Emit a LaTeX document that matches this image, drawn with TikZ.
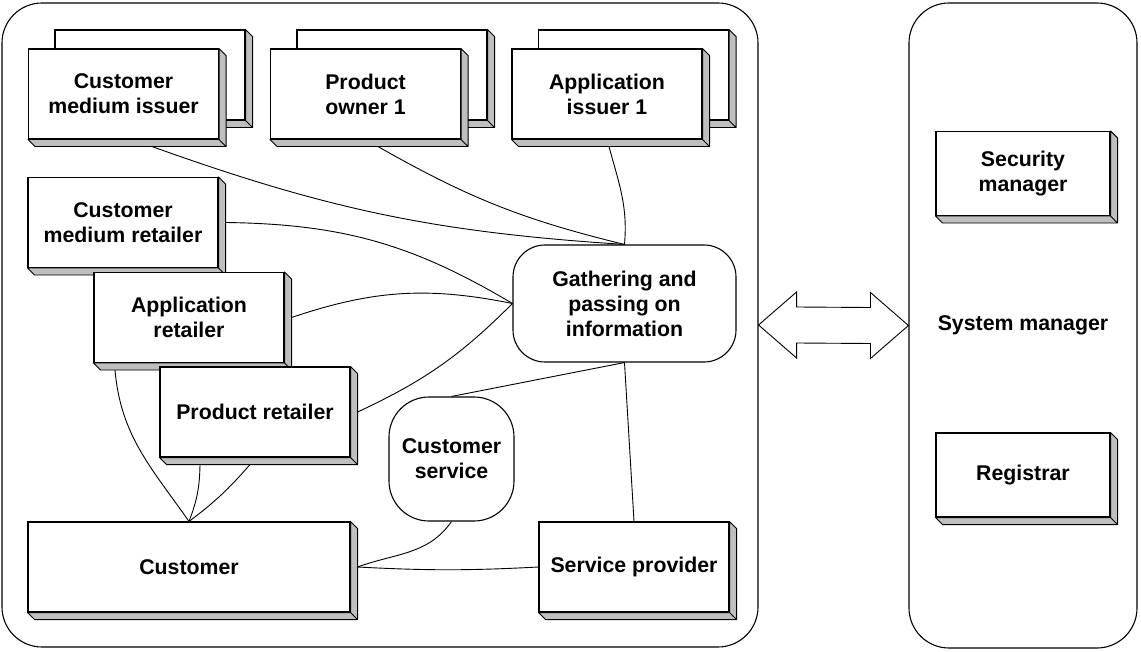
\documentclass[tikz,border=0pt]{standalone}
\usepackage{fontspec}
\setmainfont{Liberation Sans}
\usepackage{tikz}
\usetikzlibrary{calc}

\begin{document}
\begin{tikzpicture}
  [
    x = 1pt, y = -1pt, line width = 1.1pt,
    every node/.style = {font = \fontsize{21.3}{25}\selectfont\bfseries, align = center, inner sep = 0pt},
    panel/.style = {draw, rounded corners = 40pt},
    box/.style = {draw, fill = white, minimum width = 190pt, minimum height = 90pt,
      append after command = {\pgfextra{
        \filldraw [fill = black!25, line width = 0.9pt, line join = round]
          (\tikzlastnode.north east) -- ++(7pt,-7pt)
          -- ([shift={(7pt,-7pt)}]\tikzlastnode.south east)
          -- ([shift={(7pt,-7pt)}]\tikzlastnode.south west)
          -- (\tikzlastnode.south west) -- (\tikzlastnode.south east) -- cycle
          (\tikzlastnode.south east) -- ++(7pt,-7pt);
      }}},
    round/.style = {draw, fill = white, rounded corners = 32pt},
    link/.style = {line width = 0.9pt}
  ]
  \useasboundingbox [fill = white] (0,0) rectangle (1141,652);
  \node [panel, minimum width = 756pt, minimum height = 644pt] (dom) at (380,325) {};
  \node [panel, minimum width = 228pt, minimum height = 645pt] (sysman) at (1023,325.5) {System manager};
  % issuers and owners, each with a second box behind
  \node [box] (cmiB) at (150,75) {};
  \node [box] (cmi) at (123.5,94) {Customer\\medium issuer};
  \node [box] (poB) at (392,75) {};
  \node [box] (po) at (365.5,94) {Product\\owner 1};
  \node [box] (aiB) at (633.5,75) {};
  \node [box] (ai) at (607,94) {Application\\issuer 1};
  % retailers
  \node [box] (cmr) at (123,222.5) {Customer\\medium retailer};
  \node [box] (ar) at (189,317.5) {Application\\retailer};
  \node [box] (pr) at (255,412) {Product retailer};
  \node [box, minimum width = 322pt] (cust) at (189,567) {Customer};
  \node [box] (sp) at (634,567) {Service provider};
  \node [round, minimum width = 223pt, minimum height = 117pt] (gath) at (624.5,303.5) {Gathering and\\passing on\\information};
  \node [round, rounded corners = 40pt, minimum width = 125pt, minimum height = 124pt] (cs) at (451.5,459) {Customer\\service};
  % system manager
  \node [box, minimum width = 174pt, minimum height = 84pt] (sec) at (1023,173.5) {Security\\manager};
  \node [box, minimum width = 174pt, minimum height = 84pt] (reg) at (1023,475) {Registrar};
  \begin{scope}[link]
    \draw ([shift={(28.5pt,-7pt)}]cmi.south) to [bend right = 8] (gath.north);
    \draw ([shift={(12.5pt,-7pt)}]po.south) to [bend right = 8] (gath.north);
    \draw ([shift={(2pt,-7pt)}]ai.south) to [out = -75, in = 85] (gath.north);
    \draw ([xshift = 7pt]cmr.east) to [bend left = 15] (gath.west);
    \draw ([xshift = 7pt]ar.east) to [bend left = 15] (gath.west);
    \draw ([xshift = 7pt]pr.east) to [bend right = 10] (gath.west);
    \draw (gath.south) -- (cs.north);
    \draw (gath.south) -- (sp.north);
    \draw (cs.south) to [out = -125, in = 20] ([xshift = 7pt]cust.east);
    \draw ([xshift = 7pt]cust.east) to [bend right = 3] (sp.west);
    \draw ([shift={(-74pt,-7pt)}]ar.south) to [out = -85, in = 125] (cust.north);
    \draw ([shift={(-55pt,-7pt)}]pr.south) to [bend left = 10] (cust.north);
    \draw ([shift={(-5pt,-7pt)}]pr.south) to [bend left = 6] (cust.north);
  \end{scope}
  \draw [fill = white, line width = 0.9pt]
    (dom.east) -- ++(38pt,33pt) -- ++(0pt,-15pt) -- ([shift={(-38pt,18pt)}]sysman.west)
    -- ++(0pt,15pt) -- (sysman.west) -- ++(-38pt,-33pt) -- ++(0pt,15pt)
    -- ([shift={(38pt,-18pt)}]dom.east) -- ++(0pt,-15pt) -- cycle;
\end{tikzpicture}
\end{document}
